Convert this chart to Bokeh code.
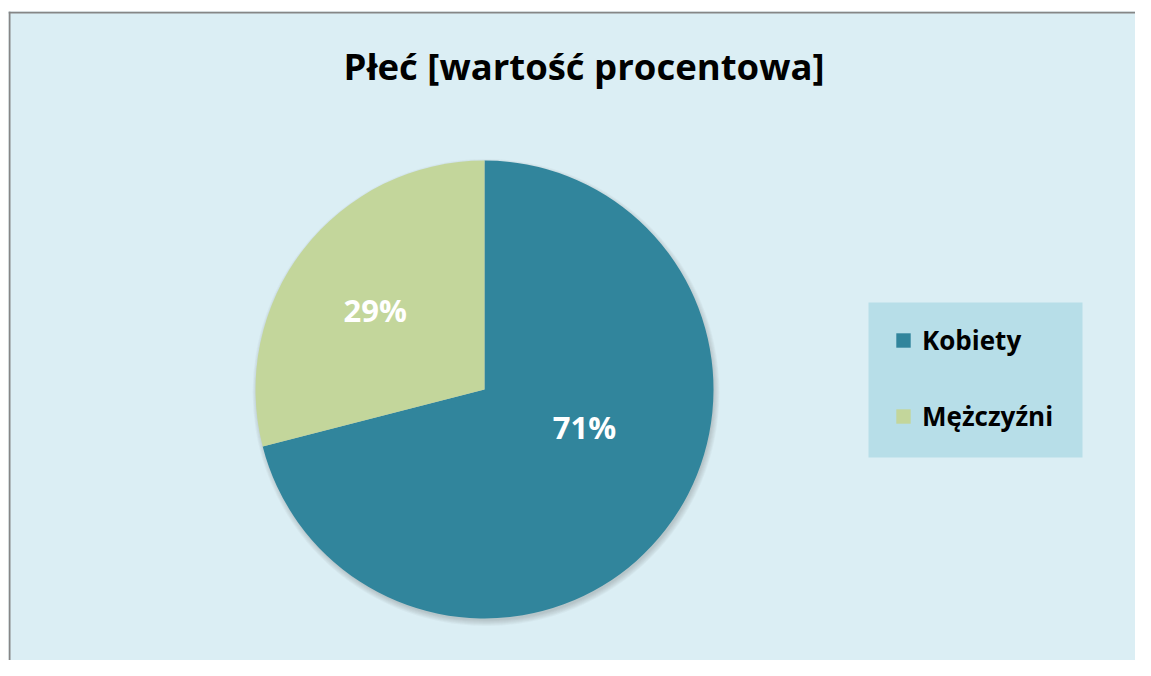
import math
from bokeh.plotting import figure
from bokeh.models import ColumnDataSource, Range1d, Legend, LegendItem, Label, BoxAnnotation
from bokeh.core.properties import value
from bokeh.embed import file_html
from bokeh.resources import INLINE

# ---- data ----
categories = ["Kobiety", "Mężczyźni"]
shares = [71, 29]
colors = ["#31859C", "#C3D69B"]
title_text = "Płeć [wartość procentowa]"

# ---- layout constants (frame px == data units) ----
PW, PH = 1135, 660
FH = 665
FW = PW - 8
CX, CY, R = 476, 287, 229
LABEL_POLAR = [(0.467, -20.8), (0.59, 144.0)]   # (radius fraction, angle deg) per slice
FONT = "Open Sans"

total = float(sum(shares))
starts, ends, labels, lx, ly = [], [], [], [], []
acc = 0.0
for i, v in enumerate(shares):
    a0 = math.pi / 2 - 2 * math.pi * acc / total
    acc += v
    a1 = math.pi / 2 - 2 * math.pi * acc / total
    starts.append(a0)
    ends.append(a1)
    labels.append(f"{round(100 * v / total)}%")
    rf, ang = LABEL_POLAR[i]
    lx.append(CX + rf * R * math.cos(math.radians(ang)))
    ly.append(CY + rf * R * math.sin(math.radians(ang)))

src = ColumnDataSource(dict(cat=categories, val=shares, start=starts, end=ends,
                            color=colors, label=labels, lx=lx, ly=ly,
                            cx=[CX] * len(shares), cy=[CY] * len(shares)))

p = figure(width=PW, height=PH, output_backend="svg", toolbar_location=None,
           x_range=Range1d(0, FW), y_range=Range1d(676 - PH, FH),
           min_border_left=8, min_border_right=0, min_border_top=11, min_border_bottom=0)
p.axis.visible = False
p.grid.visible = False
p.background_fill_color = "#DBEEF4"
p.border_fill_color = "white"
p.outline_line_color = None

# soft shadow
for k in range(7):
    p.circle(x=CX + 1.5, y=CY - 3.0, radius=R - 1 + k * 0.9, fill_color="#555555",
             fill_alpha=0.045, line_color=None)

wr = p.wedge(x="cx", y="cy", radius=R, start_angle="start", end_angle="end",
             direction="clock", fill_color="color", line_color=None, source=src)

p.text(x="lx", y="ly", text="label", source=src, text_color="white",
       text_font=value(FONT), text_font_style="bold", text_font_size="31px",
       text_align="center", text_baseline="middle")

p.add_layout(Label(x=575.5, y=611, text=title_text, text_font=FONT,
                   text_font_style="bold", text_font_size="36.5px", text_color="black",
                   text_align="center", text_baseline="middle"))

# legend background box
p.add_layout(BoxAnnotation(left=860, right=1074, bottom=219, top=374,
                           fill_color="#B7DEE8", fill_alpha=1.0, line_color=None,
                           level="underlay"))

items = [LegendItem(label=c, renderers=[wr], index=i) for i, c in enumerate(categories)]
legend = Legend(items=items, location=(886, 242 - (676 - PH)), orientation="vertical",
                background_fill_alpha=0.0, border_line_color=None,
                padding=0, spacing=40, margin=0,
                glyph_width=18, glyph_height=18, label_standoff=10, label_height=23,
                label_text_font=FONT, label_text_font_style="bold",
                label_text_font_size="26px", label_text_color="black",
                label_text_baseline="middle")
p.add_layout(legend, "center")

# chart-area border (left and top edges visible in the reference)
p.add_layout(BoxAnnotation(left=0, right=2, fill_color="#868686", fill_alpha=1.0,
                           line_color=None))
p.add_layout(BoxAnnotation(bottom=FH - 2, top=FH, fill_color="#868686", fill_alpha=1.0,
                           line_color=None))

open("out.html", "w").write(file_html(p, INLINE))
